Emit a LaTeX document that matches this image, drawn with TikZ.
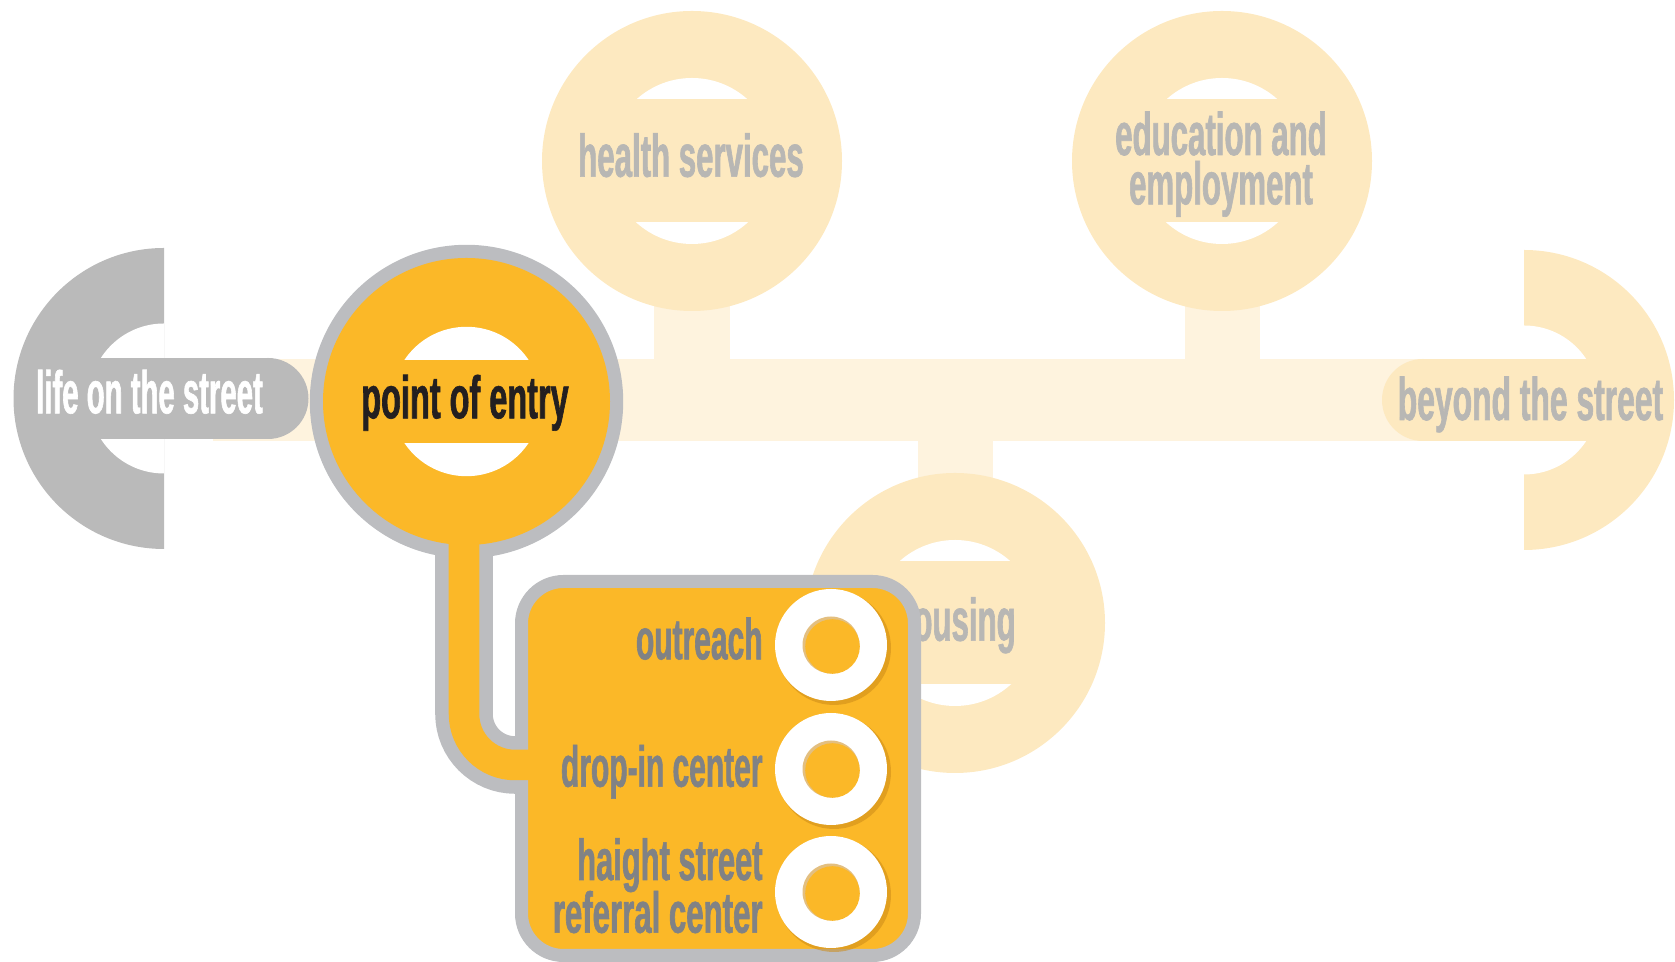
\documentclass[tikz,border=0pt]{standalone}
\usepackage{fontspec}
\newfontfamily\lab{Liberation Sans Bold}[FakeStretch=0.52,FakeBold=1]
\definecolor{barC}{RGB}{254,243,222}
\definecolor{creamC}{RGB}{253,233,192}
\definecolor{lifeC}{RGB}{186,186,186}
\definecolor{rimC}{RGB}{188,189,192}
\definecolor{yelC}{RGB}{251,184,40}
\definecolor{paleT}{RGB}{184,183,180}
\definecolor{boxT}{RGB}{128,130,133}
\definecolor{inkC}{RGB}{35,31,32}
\definecolor{shadeC}{RGB}{205,140,25}
% white lens-shaped holes above and below the middle band of a ring
\newcommand\twoholes[4]{%
  \begin{scope}\clip (#1-#3,#2-#3-2) rectangle (#1+#3,#2-#4);
    \fill[white] (#1,#2) circle (#3);\end{scope}
  \begin{scope}\clip (#1-#3,#2+#4) rectangle (#1+#3,#2+#3+2);
    \fill[white] (#1,#2) circle (#3);\end{scope}}
\tikzset{
  bigtext/.style={font=\lab\fontsize{17.07pt}{14.03pt}\selectfont, inner sep=0pt, anchor=base},
  boxtext/.style={font=\lab\fontsize{16.4pt}{18pt}\selectfont, text=boxT, inner sep=0pt, anchor=base east},
  stemfill/.style={fill=barC},
  ringdisc/.style={fill=creamC},
}
\begin{document}
\begin{tikzpicture}[x=0.01cm,y=-0.01cm]
\useasboundingbox (0,0) rectangle (1675,962);

% ---- main horizontal band and stems
\coordinate (bandL) at (213,400);
\coordinate (bandR) at (1440,400);
\fill[barC] (213,359) rectangle (1440,441);
\fill[stemfill] (654,290) rectangle (730,365);
\fill[stemfill] (1185,290) rectangle (1260,365);
\fill[stemfill] (918,435) rectangle (993,490);

% ---- health services
\coordinate (health) at (692,161);
\fill[ringdisc] (health) circle (150);
\twoholes{692}{161}{83}{62}
\node[bigtext, text=paleT] (healthT) at (691,176.7) {health services};

% ---- education and employment
\coordinate (edu) at (1222,161);
\fill[ringdisc] (edu) circle (150);
\twoholes{1222}{161}{83}{62}
\node[bigtext, text=paleT, anchor=north, align=center] (eduT) at (1221,110.8) {education and\\employment};

% ---- housing
\coordinate (housing) at (955,623);
\fill[ringdisc] (housing) circle (150);
\twoholes{955}{623}{83}{62}
\node[bigtext, text=paleT] (housingT) at (955,640.7) {housing};

% ---- beyond the street (right half ring)
\coordinate (beyond) at (1524,400);
\begin{scope}
  \clip (1524,240) rectangle (1690,570);
  \fill[creamC] (beyond) circle (150);
  \fill[white] (beyond) circle (74.5);
\end{scope}
\fill[creamC] (1423,359) rectangle (1600,441);
\fill[creamC] (1423,400) circle (41);
\node[bigtext, text=paleT] (beyondT) at (1530.5,420) {\scalebox{1.02}[1]{beyond the street}};

% ---- life on the street (left half ring)
\coordinate (life) at (164,398.5);
\begin{scope}
  \clip (-10,240) rectangle (164,560);
  \fill[lifeC] (life) circle (150.5);
  \fill[white] (life) circle (75);
\end{scope}
\fill[lifeC] (80,358) rectangle (268,439);
\fill[lifeC] (268,398.5) circle (40.5);
\node[bigtext, text=white] (lifeT) at (149.5,413.3) {\scalebox{0.94}[1]{life on the street}};

% ---- point of entry + tube + box
\coordinate (poe) at (466.5,401.5);
\coordinate (tubeTop) at (464,500);
\coordinate (tubeBend) at (464,765);
\coordinate (tubeEndA) at (530,765);
\coordinate (tubeEndB) at (548,765);
\fill[rimC] (poe) circle (156.7);
\draw[rimC, line width=0.575cm, rounded corners=0.51cm] (tubeTop) -- (tubeBend) -- (tubeEndA);
\fill[yelC] (poe) circle (143.5);
\twoholes{466.5}{401.5}{74.7}{41.7}
\node[bigtext, text=inkC] (poeT) at (465,418.3) {\scalebox{1.04}[1]{point of entry}};

\draw[rimC, line width=0.13cm, fill=yelC, rounded corners=0.42cm] (521.5,581.5) rectangle (914.5,955.5);
\coordinate (box) at (718,768);
\draw[yelC, line width=0.305cm, rounded corners=0.51cm] (tubeTop) -- (tubeBend) -- (tubeEndB);

% ---- rings in the box
\foreach \yy in {645,769,892} {
  \fill[shadeC, opacity=.55] (834,\yy+3) circle (57);
  \fill[white] (831,\yy) circle (56);
  \fill[shadeC, opacity=.55] (831,\yy) circle (28.5);
  \fill[yelC] (832.5,\yy+1.5) circle (27.3);
}

\node[boxtext] (outreachT) at (763.3,659.3) {outreach};
\node[boxtext] (dropT) at (763.3,786.7) {drop-in center};
\node[boxtext] (haightT1) at (763.3,880) {\scalebox{1.03}[1]{haight street}};
\node[boxtext] (haightT2) at (763.3,932.7) {\scalebox{1.04}[1]{referral center}};
\end{tikzpicture}
\end{document}
